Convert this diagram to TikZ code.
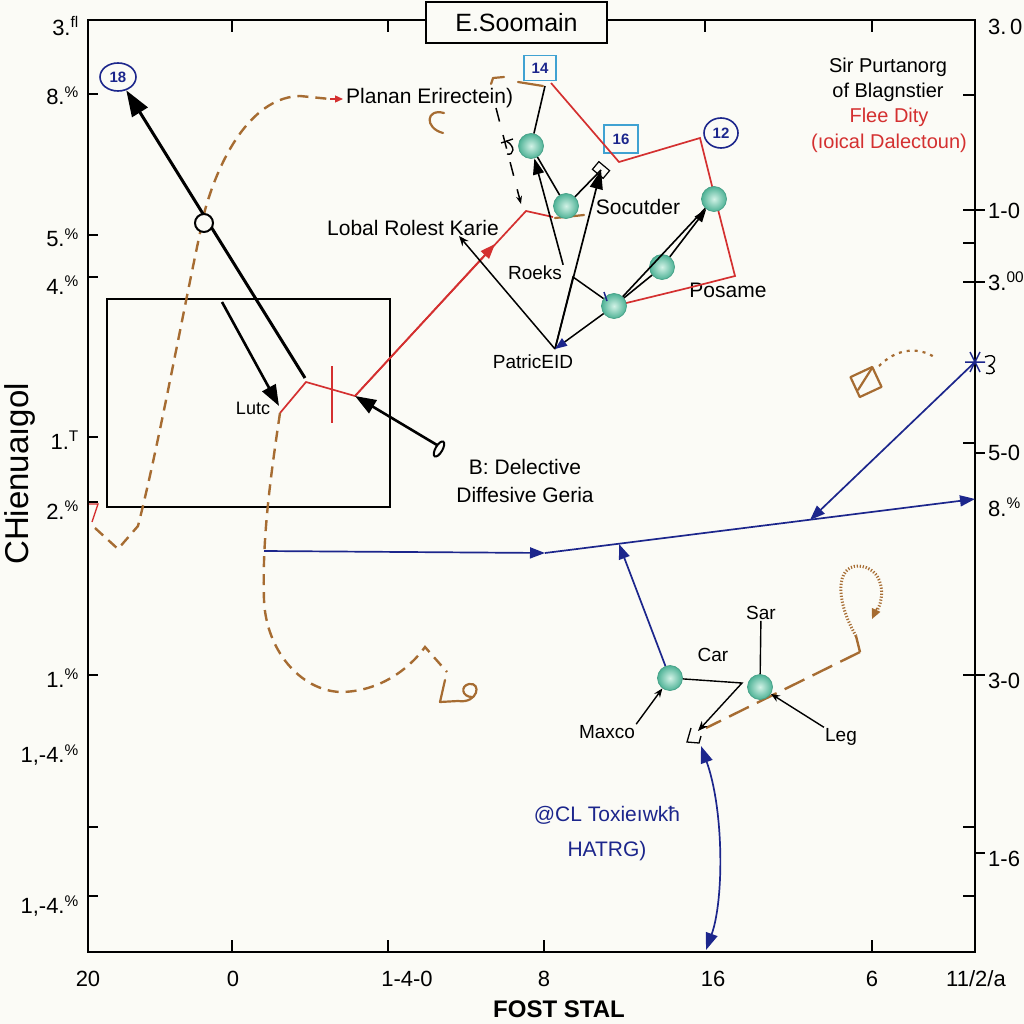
\documentclass[tikz,border=0pt]{standalone}
\usepackage{fontspec}
\setmainfont{Liberation Sans}
\usetikzlibrary{arrows.meta,shapes.geometric}
\definecolor{bg}{RGB}{251,251,246}
\definecolor{brn}{RGB}{166,108,50}
\definecolor{rd}{RGB}{212,48,48}
\definecolor{nv}{RGB}{28,38,140}
\definecolor{cy}{RGB}{64,162,210}
\definecolor{tlin}{RGB}{210,242,230}
\definecolor{tlout}{RGB}{78,178,150}
\definecolor{tlrim}{RGB}{70,160,135}
\begin{document}
\begin{tikzpicture}[x=1pt,y=-1pt,
  lab/.style={inner sep=1pt,font=\fontsize{21}{24}\selectfont},
  slab/.style={inner sep=1pt,font=\fontsize{19}{22}\selectfont},
  tlab/.style={inner sep=1pt,font=\fontsize{22}{24}\selectfont},
  sphere/.style={circle,minimum size=25pt,inner sep=0pt,inner color=tlin,outer color=tlout,draw=tlrim,line width=0.7pt},
  axisline/.style={line width=2pt},
  tk/.style={line width=2.2pt},
  bigarrow/.style={line width=3pt,-{Triangle[length=26pt,width=18pt]}},
  midarrow/.style={line width=2.6pt,-{Triangle[length=21pt,width=15pt]}},
  thinarrow/.style={line width=1.6pt,-{Triangle[length=16pt,width=11pt]}},
  thinl/.style={line width=1.6pt},
  brdash/.style={brn,line width=2.4pt,dash pattern=on 11pt off 7pt},
  brsolid/.style={brn,line width=2.2pt,line cap=round,line join=round},
  redl/.style={rd,line width=1.7pt},
  bll/.style={nv,line width=1.7pt},
  bluearrow/.style={nv,line width=1.7pt,-{Triangle[length=15pt,width=11pt]}},
  numbox/.style={draw=cy,line width=1.6pt,text=nv,font=\fontsize{15}{17}\selectfont\bfseries,inner sep=2pt},
  numcirc/.style={ellipse,draw=nv,line width=1.6pt,text=nv,font=\fontsize{15}{17}\selectfont\bfseries,inner sep=1pt}
]
\fill[bg] (0,0) rectangle (1024,1024);
\useasboundingbox (0,0) rectangle (1024,1024);

% ---------- axes ----------
\draw[axisline] (88,20) -- (88,952) -- (975,952) -- (975,20) -- cycle;
\foreach \x in {232,388,705,872} \draw[tk] (\x,20) -- (\x,32);
\foreach \x in {232,388,544,872} \draw[tk] (\x,952) -- (\x,940);
\foreach \y in {94,235,277,437,502,675,827,896} \draw[tk] (88,\y) -- (98,\y);
\foreach \y in {95,243,443,827,896} \draw[tk] (975,\y) -- (963,\y);
\foreach \y in {210,282,675} \draw[tk] (963,\y) -- (985,\y);
\foreach \y in {453,853} \draw[tk] (975,\y) -- (985,\y);

\node[draw,line width=2pt,fill=bg,minimum width=181pt,minimum height=41pt,inner sep=0pt,font=\fontsize{25}{28}\selectfont] (title) at (516.5,22.5) {E.Soomain};

% left tick labels
\node[tlab,anchor=east] (ly1) at (80,26) {3.\textsuperscript{fl}};
\node[tlab,anchor=east] (ly2) at (80,96) {8.\textsuperscript{\%}};
\node[tlab,anchor=east] (ly3) at (80,238) {5.\textsuperscript{\%}};
\node[tlab,anchor=east] (ly4) at (80,285) {4.\textsuperscript{\%}};
\node[tlab,anchor=east] (ly5) at (80,440) {1.\textsuperscript{T}};
\node[tlab,anchor=east] (ly6) at (80,510) {2.\textsuperscript{\%}};
\node[tlab,anchor=east] (ly7) at (80,678) {1.\textsuperscript{\%}};
\node[tlab,anchor=east] (ly8) at (80,755) {1,-4.\textsuperscript{\%}};
\node[tlab,anchor=east] (ly9) at (80,906) {1,-4.\textsuperscript{\%}};
% right tick labels
\node[tlab,anchor=west] (ry1) at (987,27) {3.\,0};
\node[tlab,anchor=west] (ry2) at (987,211) {1-0};
\node[tlab,anchor=west] (ry3) at (987,281) {3.\textsuperscript{00}};
\node[tlab,anchor=west] (ry4) at (987,453) {5-0};
\node[tlab,anchor=west] (ry5) at (987,507) {8.\textsuperscript{\%}};
\node[tlab,anchor=west] (ry6) at (987,681) {3-0};
\node[tlab,anchor=west] (ry7) at (987,859) {1-6};
% bottom tick labels
\node[tlab] (bx1) at (88,979) {20};
\node[tlab] (bx2) at (233,979) {0};
\node[tlab] (bx3) at (407,979) {1-4-0};
\node[tlab] (bx4) at (544,979) {8};
\node[tlab] (bx5) at (713,979) {16};
\node[tlab] (bx6) at (872,979) {6};
\node[tlab] (bx7) at (976,979) {11/2/a};
\node[inner sep=0pt,font=\fontsize{24}{26}\selectfont\bfseries] (xtitle) at (559,1009) {FOST STAL};
\node[inner sep=0pt,rotate=90,anchor=base,font=\fontsize{33}{35}\selectfont] (ytitle) at (28,474) {CHienuaıgol};

% ---------- left part ----------
\draw[line width=2pt] (107,299) rectangle (390,507);
\draw[rd,line width=1.3pt] (89,504) -- (98,504) -- (92,522);

% brown dashed curve 1
\draw[brdash] (95,528) -- (118,549) -- (138,526)
  .. controls (160,440) and (185,300) .. (205,210)
  .. controls (222,150) and (255,97) .. (300,96) -- (330,99);
\draw[rd,line width=1.3pt,-{Triangle[length=8pt,width=7pt]}] (330,99) -- (343,99);

\node[lab,anchor=west] (planan) at (345,98) {Planan Erirectein)};
\node[numcirc,minimum width=36pt,minimum height=28pt] (c18) at (118,77) {18};

\coordinate (l18) at (305,378);
\draw[bigarrow] (l18) -- (c18);
\node[circle,draw,line width=2pt,fill=bg,minimum size=18pt,inner sep=0pt] (oc) at (204,223) {};

% red polyline with Lutc
\coordinate (lutcpt) at (280,413);
\coordinate (r1) at (306,382);
\coordinate (r2) at (355,396);
\coordinate (r3) at (526,211);
\coordinate (r4) at (553,217);
\draw[redl,line join=miter] (lutcpt) -- (r1) -- (r2) -- (r3) -- (r4);
\draw[redl,-{Triangle[length=15pt,width=11pt]}] (r2) -- (495,244);
\draw[rd,line width=1.7pt] (332,366) -- (332,423);

\node[slab,font=\fontsize{18}{20}\selectfont] (lutc) at (253,408) {Lutc};
\coordinate (la) at (222,302);
\draw[midarrow] (la) -- (279,406);

\coordinate (tail) at (437,445);
\draw[midarrow] (tail) -- (r2);
\node[ellipse,draw,line width=2pt,fill=bg,minimum width=17pt,minimum height=7pt,inner sep=0pt,rotate=60] (tailell) at (439,449) {};

% brown dashed curve 2
\draw[brdash] (lutcpt) .. controls (270,480) and (262,540) .. (264,600)
  .. controls (266,650) and (300,690) .. (340,692)
  .. controls (380,692) and (410,668) .. (425,647) -- (447,672);
\draw[brsolid] (445,680) -- (440,702) -- (458,701)
  .. controls (478,704) and (482,682) .. (469,684)
  .. controls (460,686) and (462,697) .. (472,697);

% brown scribbles near top
\draw[brsolid] (444,113) .. controls (426,108) and (424,128) .. (443,133);
\draw[brsolid] (491,84) -- (493,78) -- (504,77);
\draw[brsolid] (518,82) -- (543,86);
\draw[brsolid] (555,218) -- (584,215);

% ---------- central cluster ----------
\node[lab] (karie) at (413,228) {Lobal Rolest Karie};
\node[slab] (roeks) at (535,273) {Roeks};
\node[slab] (patric) at (533,362) {PatricEID};
\node[lab] (socut) at (638,207) {Socutder};
\node[lab] (posame) at (728,290) {Posame};
\node[numbox,minimum width=32pt,minimum height=25pt] (b14) at (540,68) {14};
\node[numbox,minimum width=34pt,minimum height=28pt] (b16) at (621,139) {16};
\node[numcirc,minimum width=34pt,minimum height=30pt] (c12) at (721,133) {12};

\coordinate (ptop) at (555,349);
\coordinate (kar) at (459,236);
\coordinate (sock) at (601,170);
\coordinate (c14) at (545,86);
\coordinate (vtx) at (573,277);
\coordinate (pos1) at (688,288);

% red outline
\draw[redl,line join=miter] (614,306) -- (pos1) -- (735,276) -- (711,182) -- (700,138) -- (619,162) -- (551,83);

% dashed black
\draw[line width=1.5pt,dash pattern=on 14pt off 14pt,-{Stealth[length=8pt]}] (496,108) -- (521,204);
\draw[line width=1.4pt] (501,143) -- (513,139);
\draw[line width=1.4pt] (506,141) .. controls (516,146) and (514,156) .. (507,154);

\node[sphere] (A) at (531,146) {};
\node[sphere] (B) at (566,206) {};
\node[sphere] (C) at (714,199) {};
\node[sphere] (D) at (662,267) {};
\node[sphere] (E) at (614,306) {};

\draw[thinl] (A) -- (c14);
\draw[thinl] (B) -- (A);
\draw[thinarrow] (roeks.north east) -- (A);
\draw[thinl] (B) -- (sock);
\draw[line width=1.2pt,rotate around={-40:(601,170)}] (594,165) rectangle (608,175);
\draw[line width=1.7pt,-{Triangle[length=19pt,width=13pt]}] (ptop) -- (sock);
\draw[line width=1.5pt,-{Stealth[length=10pt,width=8pt]}] (ptop) -- (kar);
\draw[line width=1.5pt] (ptop) -- (vtx) -- (E);
\draw[nv,line width=1.5pt] (604,292) -- (607,301);
\draw[line width=1.5pt,-{Triangle[length=12pt,width=9pt,color=nv]}] (E) -- (ptop);
\draw[thinl] (E) -- (C);
\draw[thinl] (E) -- (D);
\draw[thinl,-{Triangle[length=13pt,width=9pt]}] (D) -- (C);

% right text block
\node[lab,font=\fontsize{20}{22}\selectfont] (t1) at (888,67) {Sir Purtanorg};
\node[lab,font=\fontsize{20}{22}\selectfont] (t2) at (888,92) {of Blagnstier};
\node[lab,font=\fontsize{20}{22}\selectfont,text=rd] (t3) at (889,117) {Flee Dity};
\node[lab,font=\fontsize{20}{22}\selectfont,text=rd] (t4) at (889,143) {(ıoical Dalectoun)};

\node[lab] (bd1) at (525,467) {B: Delective};
\node[lab] (bd2) at (525,495) {Diffesive Geria};

% ---------- right / blue ----------
\coordinate (star) at (975,362);
\coordinate (hstart) at (264,551);
\coordinate (b1) at (545,553);
\coordinate (bend) at (975,499);
\coordinate (bj) at (810,520);
\coordinate (b2) at (619,544);
\draw[brsolid,rotate around={25:(866,382)}] (854,371) rectangle (878,393);
\draw[brsolid] (858,390) -- (872,368);
\draw[brn,line width=2.2pt,dash pattern=on 3pt off 5pt] (879,366) .. controls (895,350) and (916,345) .. (936,358);
\draw[bluearrow] (hstart) -- (b1);
\draw[bluearrow] (b1) -- (bend);
\draw[bluearrow] (star) -- (bj);
\draw[nv,line width=1.5pt] (965,362) -- (985,362) (970,352) -- (980,372) (980,352) -- (970,372);
\draw[line width=1.3pt] (985,357) .. controls (996,352) and (998,362) .. (989,366) .. controls (997,368) and (996,376) .. (986,373);

% ---------- bottom cluster ----------
\coordinate (bk) at (860,652);
\coordinate (bdend) at (706,728);
\draw[brdash,dash pattern=on 22pt off 9pt] (bk) -- (bdend);
\draw[brn,line width=2.4pt] (bk) -- (856,636);
\draw[brn,line width=3pt,dash pattern=on 1.2pt off 1.8pt] (856,636) .. controls (835,600) and (836,566) .. (858,566) .. controls (884,567) and (886,598) .. (876,612);
\draw[brn,line width=1.5pt,-{Triangle[length=10pt,width=9pt]}] (877,608) -- (872,619);

\node[sphere] (F) at (670,678) {};
\node[sphere] (G) at (760,687) {};
\node[slab] (sar) at (761,613) {Sar};
\node[slab] (car) at (713,655) {Car};
\node[slab] (maxco) at (607,732) {Maxco};
\node[slab] (leg) at (841,737) {Leg};
\coordinate (fk) at (742,683);
\coordinate (hand) at (698,731);
\draw[line width=1.4pt] (sar) -- (G);
\draw[line width=1.4pt,-{Stealth[length=10pt,width=8pt]}] (F) -- (fk) -- (hand);
\draw[line width=1.3pt] (691,728) -- (687,742) -- (699,743) -- (701,736);
\draw[line width=1.4pt,-{Stealth[length=9pt,width=7pt]}] (maxco.north east) -- (F);
\draw[line width=1.4pt,-{Stealth[length=9pt,width=7pt]}] (leg.north west) -- (G);
\draw[bluearrow] (F) -- (b2);

\coordinate (dtop) at (701,746);
\coordinate (dbot) at (706,950);
\draw[nv,line width=1.7pt,{Triangle[length=17pt,width=12pt]}-{Triangle[length=17pt,width=12pt]}] (dtop) .. controls (724,810) and (724,900) .. (dbot);

\node[lab,text=nv,font=\fontsize{21}{24}\selectfont] (bt1) at (607,815) {@CL Toxieıwkħ};
\node[lab,text=nv,font=\fontsize{21}{24}\selectfont] (bt2) at (607,851) {HATRG)};
\end{tikzpicture}
\end{document}
